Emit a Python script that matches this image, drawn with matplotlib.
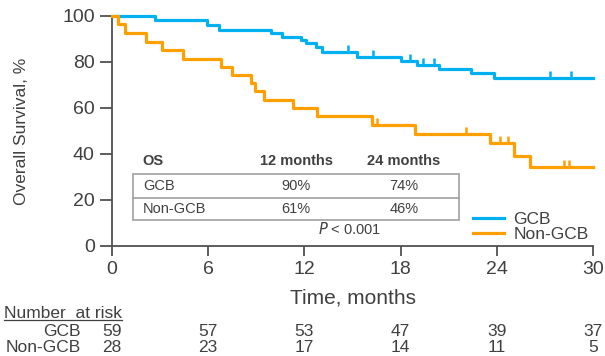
import numpy as np
import matplotlib
matplotlib.use("Agg")
import matplotlib.pyplot as plt
import matplotlib.transforms as mtransforms
from matplotlib.patches import Rectangle
from matplotlib.lines import Line2D

plt.rcParams['font.family'] = ['Liberation Sans', 'DejaVu Sans']

# Kaplan-Meier steps
gcb_t = [0, 2.7, 5.9, 6.7, 9.9, 10.6, 11.8, 12.1, 12.7, 13.1, 15.3, 18.0, 19.0, 20.4, 22.4, 23.8, 30.0]
gcb_s = [100, 98.3, 96.1, 93.9, 92.4, 91.0, 89.5, 88.1, 86.6, 84.4, 82.2, 80.5, 78.6, 76.9, 75.4, 73.2, 73.2]
gcb_cens = [14.7, 16.3, 18.6, 19.4, 20.1, 27.3, 28.6]

ngcb_t = [0, 0.4, 0.8, 2.1, 3.1, 4.4, 6.8, 7.5, 8.7, 8.9, 9.5, 11.3, 12.8, 16.2, 18.9, 23.6, 25.1, 26.1, 30.0]
ngcb_s = [100, 96.4, 92.6, 88.5, 85.2, 81.5, 77.9, 74.2, 70.9, 67.4, 63.6, 60.0, 56.5, 52.8, 48.8, 44.7, 39.3, 34.2, 34.2]
ngcb_cens = [16.5, 22.1, 24.2, 24.7, 28.2, 28.5]

groups = ['GCB', 'Non-GCB']
colors = ['#00B0F0', '#FFA000']

os_cols = ['12 months', '24 months']
os_vals = [['90%', '74%'], ['61%', '46%']]
p_text = '< 0.001'

risk_times = [0, 6, 12, 18, 24, 30]
risk_gcb = [59, 57, 53, 47, 39, 37]
risk_ngcb = [28, 23, 17, 14, 11, 5]

txt = '#404040'

fig = plt.figure(figsize=(6.05, 3.56), dpi=100)
ax = fig.add_axes([112 / 605, 1 - 246 / 356, 481 / 605, 230 / 356])


def surv_at(t, ts, ss):
    idx = np.searchsorted(ts, t, side='right') - 1
    return np.array(ss)[idx]


for ts, ss, cens, col, lab in [(gcb_t, gcb_s, gcb_cens, colors[0], groups[0]),
                               (ngcb_t, ngcb_s, ngcb_cens, colors[1], groups[1])]:
    ax.step(ts, ss, where='post', color=col, lw=2.3, label=lab, clip_on=False, zorder=3)
    ax.plot(cens, surv_at(cens, ts, ss), linestyle='none', marker=[(0, 0), (0, 1)],
            ms=10, mew=1.8, mec=col, clip_on=False, zorder=3)

ax.set_xlim(0, 30)
ax.set_ylim(0, 100)
ax.set_xticks(risk_times)
ax.set_yticks(range(0, 101, 20))
for s in ['top', 'right']:
    ax.spines[s].set_visible(False)
for s in ['left', 'bottom']:
    ax.spines[s].set_color('#505050')
    ax.spines[s].set_linewidth(1.3)
ax.tick_params(axis='both', direction='out', width=1.3, color='#505050',
               labelsize=14, labelcolor=txt)
ax.tick_params(axis='x', length=7, pad=4)
ax.tick_params(axis='y', length=8.5, pad=4)
ax.set_xlabel('Time, months', fontsize=15, color=txt, labelpad=7)
ax.set_ylabel('Overall Survival, %', fontsize=12.5, color=txt, labelpad=24)

leg = ax.legend(loc='lower right', bbox_to_anchor=(1.005, -0.012), frameon=False, fontsize=12.5,
                handlelength=1.75, handletextpad=0.55, labelspacing=0.0, borderaxespad=0)
for t in leg.get_texts():
    t.set_color(txt)

# OS table
ax.add_patch(Rectangle((0.044, 0.114), 0.677, 0.200, transform=ax.transAxes, fill=False,
                       ec='#A0A0A0', lw=1.2, zorder=2))
ax.add_line(Line2D([0.044, 0.721], [0.210, 0.210], transform=ax.transAxes, color='#A0A0A0', lw=1.2))
col_x = [0.383, 0.607]
ax.text(0.064, 0.371, 'OS', transform=ax.transAxes, fontsize=10.5, fontweight='bold',
        color=txt, va='center', ha='left')
for cx, c in zip(col_x, os_cols):
    ax.text(cx, 0.371, c, transform=ax.transAxes, fontsize=10.5, fontweight='bold',
            color=txt, va='center', ha='center')
for ry, g, vals in zip([0.262, 0.162], groups, os_vals):
    ax.text(0.064, ry, g, transform=ax.transAxes, fontsize=10.5, color=txt, va='center', ha='left')
    for cx, v in zip(col_x, vals):
        ax.text(cx, ry, v, transform=ax.transAxes, fontsize=10.5, color=txt, va='center', ha='center')
ax.text(0.495, 0.074, r'$\mathit{P}$ ' + p_text, transform=ax.transAxes, fontsize=10.5,
        color=txt, va='center', ha='center')

# number at risk
tr = mtransforms.blended_transform_factory(ax.transData, fig.transFigure)
nar = fig.text(4 / 605, 1 - 314 / 356, 'Number  at risk', fontsize=12.5, color=txt, va='center', ha='left')
for ry, g, vals in zip([1 - 332 / 356, 1 - 347 / 356], groups, [risk_gcb, risk_ngcb]):
    fig.text(81 / 605, ry, g, fontsize=12.5, color=txt, va='center', ha='right')
    for t, v in zip(risk_times, vals):
        ax.text(t, ry, str(v), transform=tr, fontsize=12.5, color=txt, va='center', ha='center')

fig.canvas.draw()
bb = nar.get_window_extent().transformed(fig.transFigure.inverted())
fig.add_artist(Line2D([bb.x0, bb.x1], [bb.y0 + 0.004, bb.y0 + 0.004], transform=fig.transFigure,
                      color=txt, lw=0.9))

fig.savefig('out.png', dpi=100)
